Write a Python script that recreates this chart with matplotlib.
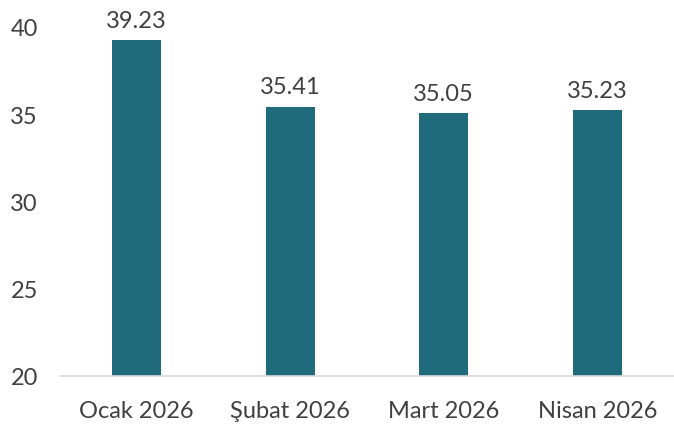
import matplotlib
matplotlib.use("Agg")
import matplotlib.pyplot as plt

categories = ["Ocak 2026", "Şubat 2026", "Mart 2026", "Nisan 2026"]
values = [39.23, 35.41, 35.05, 35.23]
value_labels = ["39.23", "35.41", "35.05", "35.23"]
yticks = [20, 25, 30, 35, 40]

plt.rcParams['font.family'] = ['Lato', 'DejaVu Sans']
text_color = "#404040"

fig = plt.figure(figsize=(6.74, 4.27), dpi=100)
ax = fig.add_axes([60/674, 1-377/427, 614/674, (377-28)/427])

x = list(range(len(categories)))
bars = ax.bar(x, values, width=0.32, color="#1F6B7B", zorder=2)
ax.set_xlim(-0.5, len(categories) - 0.5)
ax.set_ylim(20, 40)
ax.set_yticks(yticks)
ax.set_yticklabels([str(t) for t in yticks])
ax.set_xticks(x)
ax.set_xticklabels(categories)

for b, lab in zip(bars, value_labels):
    ax.annotate(lab, (b.get_x() + b.get_width()/2, b.get_height()),
                xytext=(0, 7), textcoords="offset points",
                ha="center", va="bottom", fontsize=17, color=text_color,
                annotation_clip=False)

for s in ["top", "right", "left"]:
    ax.spines[s].set_visible(False)
ax.spines["bottom"].set_color("#D9D9D9")
ax.spines["bottom"].set_linewidth(1.2)
ax.tick_params(axis="both", length=0, labelsize=17, labelcolor=text_color)
ax.tick_params(axis="y", pad=16)
ax.tick_params(axis="x", pad=17)

fig.savefig("out.png", dpi=100)
